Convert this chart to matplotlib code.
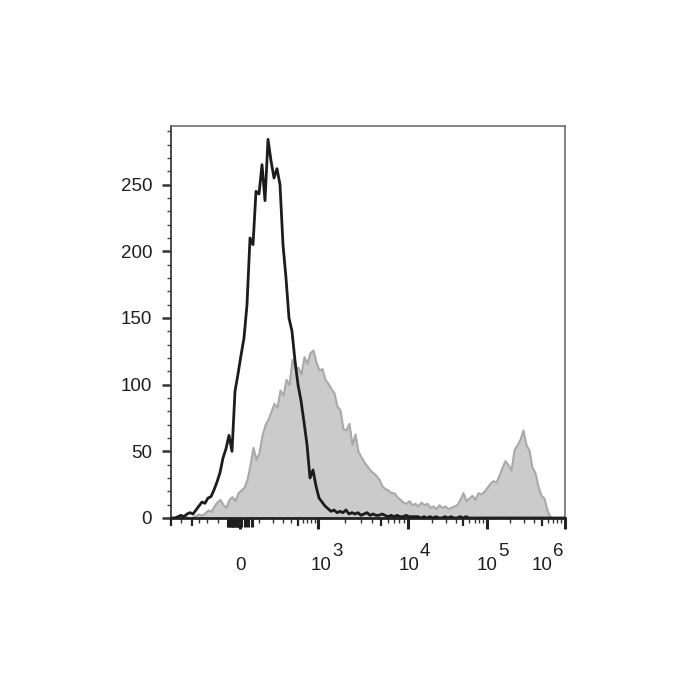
import numpy as np
import matplotlib
matplotlib.use("Agg")
import matplotlib.pyplot as plt

plt.rcParams['font.family'] = ['Liberation Sans', 'DejaVu Sans']

# ---------------- data (counts per display channel) ----------------
control_counts = [
    0, 0, 1, 2, 1, 3, 4, 3, 6, 9,
    12, 11, 15, 16, 21, 27, 34, 45, 52, 62,
    50, 95, 108, 122, 135, 160, 210, 205, 245, 243,
    265, 238, 284, 268, 255, 262, 250, 205, 180, 150,
    140, 118, 100, 88, 72, 55, 30, 36, 24, 15,
    12, 9, 7, 5, 6, 4, 5, 4, 6, 3,
    4, 3, 4, 2, 3, 4, 2, 3, 2, 2,
    3, 2, 1, 2, 1, 2, 1, 1, 2, 1,
    1, 1, 1, 0, 1, 0, 1, 0, 1, 0,
    0, 1, 0, 1, 0, 0, 1, 0, 1, 0,
    0, 0, 0, 0, 0, 0, 0, 0, 0, 0,
    0, 0, 0, 0, 0, 0, 0, 0, 0, 0,
    0, 0, 0, 0, 0, 0, 0, 0, 0, 0,
    0, 0,
]
stained_counts = [
    0, 0, 0, 0, 0, 1, 0, 1, 2, 3,
    2, 4, 6, 5, 9, 12, 14, 10, 8, 14,
    16, 13, 19, 21, 23, 29, 40, 53, 44, 49,
    62, 70, 74, 80, 86, 83, 96, 92, 104, 100,
    119, 112, 113, 108, 121, 116, 124, 126, 117, 111,
    112, 104, 101, 97, 94, 84, 81, 67, 66, 71,
    55, 63, 50, 46, 42, 39, 36, 34, 32, 29,
    24, 22, 21, 19, 19, 16, 14, 12, 11, 13,
    10, 11, 9, 12, 10, 11, 8, 9, 7, 10,
    8, 9, 7, 8, 9, 10, 14, 19, 13, 15,
    17, 14, 19, 18, 20, 23, 26, 28, 27, 32,
    38, 43, 40, 36, 51, 55, 59, 66, 55, 51,
    38, 34, 24, 17, 15, 6, 1, 0, 0, 0,
    0, 0,
]
y_ticks = [0, 50, 100, 150, 200, 250]
y_labels = ["0", "50", "100", "150", "200", "250"]
x_major = [0, 1e3, 1e4, 1e5, 1e6]
x_exponents = ["3", "4", "5", "6"]

# ---------------- biexponential-like display scale ----------------
W = 150.0
LN10 = np.log(10)
G1000 = np.arcsinh(1000.0 / W) / LN10


def _g(x):
    x = np.asarray(x, dtype=float)
    pos = np.arcsinh(np.clip(x, 0, None) / W) / LN10
    neg = x / 1000.0 * G1000
    return np.where(x >= 0, pos, neg)


def _ginv(v):
    v = np.asarray(v, dtype=float)
    pos = W * np.sinh(np.clip(v, 0, 8) * LN10)
    neg = v * 1000.0 / G1000
    return np.where(v >= 0, pos, neg)


ANCHOR_V = np.array([-1000.0, 0.0, 1e3, 1e4, 1e5, 1e6])
ANCHOR_G = _g(ANCHOR_V)
ANCHOR_P = np.array([0.0, 69.0, 147.0, 237.0, 316.0, 394.0])


def fwd(x):
    return np.interp(_g(x), ANCHOR_G, ANCHOR_P)


def inv(p):
    return _ginv(np.interp(np.asarray(p, dtype=float), ANCHOR_P, ANCHOR_G))


# ---------------- figure ----------------
fig = plt.figure(figsize=(7, 7), dpi=100)
ax = fig.add_axes([171 / 700, 1 - 518 / 700, 394 / 700, 392 / 700])
ax.set_xscale('function', functions=(fwd, inv))
ax.set_xlim(-1000, 1e6)
ax.set_ylim(0, 294)

n = len(stained_counts)
channel_x = inv(np.linspace(1, 394, n))

ax.fill_between(channel_x, stained_counts, 0, facecolor='#cbcbcb',
                edgecolor='#a9a9a9', linewidth=1.5, zorder=2)
ax.plot(channel_x, control_counts, color='#1c1c1c', linewidth=2.0, zorder=3)

# spines
for s in ['top', 'right']:
    ax.spines[s].set_color('#6e6e6e')
    ax.spines[s].set_linewidth(1.2)
ax.spines['left'].set_color('#3a3a3a')
ax.spines['left'].set_linewidth(1.3)
ax.spines['bottom'].set_color('#222222')
ax.spines['bottom'].set_linewidth(2.0)

# y ticks
ax.set_yticks(y_ticks, labels=y_labels)
ax.set_yticks(np.arange(0, 291, 10), minor=True)
ax.tick_params(axis='y', which='major', length=6.5, width=1.8, color='#333333',
               labelsize=13.5, pad=7, labelcolor='#1e1e1e')
ax.tick_params(axis='y', which='minor', length=3.2, width=1.0, color='#444444')

# x ticks
minor_x = []
for k in (3, 4, 5):
    for m in (2, 3, 4, 6, 7, 8, 9):
        minor_x.append(m * 10 ** k)
for m in (1, 2, 3, 4, 6, 7, 8, 9):
    minor_x.append(m * 100)
minor_x += [-850, -600, -480, -320]
medium_x = [500, 5e3, 5e4, 5e5, -700, -1000]
blob_x = list(np.linspace(-170, 60, 14))

ax.set_xticks(x_major, labels=[""] * len(x_major))
ax.set_xticks(minor_x, minor=True)
ax.tick_params(axis='x', which='major', length=8, width=2.2, color='#222222')
ax.tick_params(axis='x', which='minor', length=3.6, width=1.0, color='#333333')

xt = ax.get_xaxis_transform()
ax.vlines(medium_x, 0, -7.5 / 392, transform=xt, color='#222222', linewidth=1.6, clip_on=False)
ax.vlines(blob_x, 0, -8.5 / 392, transform=xt, color='#1e1e1e', linewidth=2.2, clip_on=False)

# x tick labels: "0" and 10^k with raised exponents
PT = 0.72
ax.annotate("0", (0, 0), xycoords=xt, xytext=(0, -47 * PT), textcoords='offset points',
            ha='center', va='center', fontsize=13.5, color='#1e1e1e')
dxs = [3, 1, 0, -23]
for val, e, dx in zip(x_major[1:], x_exponents, dxs):
    ax.annotate("10", (val, 0), xycoords=xt, xytext=(dx * PT, -48 * PT),
                textcoords='offset points', ha='center', va='center',
                fontsize=13.5, color='#1e1e1e')
    ax.annotate(e, (val, 0), xycoords=xt, xytext=((dx + 11) * PT, -34 * PT),
                textcoords='offset points', ha='left', va='center',
                fontsize=13.5, color='#1e1e1e')

fig.savefig("out.png", dpi=100)
